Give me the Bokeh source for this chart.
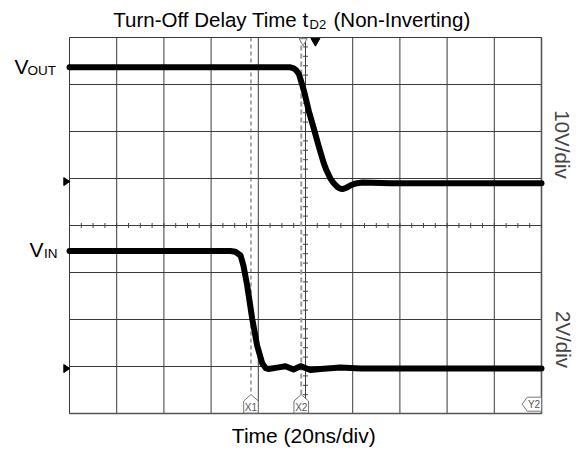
import numpy as np
from bokeh.plotting import figure
from bokeh.models import Range1d, Label
from bokeh.embed import file_html
from bokeh.resources import INLINE

# ---------------- data ----------------
T_GRID_NS = [0, 20, 40, 60, 80, 100, 120, 140, 160, 180, 200]
Y_GRID_DIV = [-4, -3, -2, -1, 0, 1, 2, 3, 4]

VOUT_T = [0, 93.6, 95.0, 96.2, 97.2, 99.3, 101.4, 103.5, 105.6, 107.8, 108.9, 110.6,
          111.9, 113.4, 114.4, 115.6, 117.0, 119.1, 121.2, 124.2, 128.4, 136.0, 200]
VOUT_V = [24.3, 24.3, 24.1, 23.6, 22.9, 19.4, 15.0, 11.3, 7.5, 3.8, 2.4, 0.6,
          -0.3, -1.1, -1.45, -1.6, -1.4, -0.8, -0.4, -0.2, -0.25, -0.35, -0.35]

VIN_T = [0, 68.2, 70.3, 72.5, 73.7, 75.3, 77.4, 79.5, 81.7, 83.1, 84.3, 88.6, 91.5,
         94.9, 97.9, 102.1, 106.4, 114.8, 123.3, 200]
VIN_V = [5.0, 5.0, 4.97, 4.81, 4.38, 3.53, 2.13, 0.98, 0.21, 0.02, -0.02, 0.05, 0.1,
         -0.04, 0.1, -0.06, -0.02, 0.04, 0.0, 0.0]

X_CURSORS_NS = [76.9, 98.2]
X_CURSOR_LABELS = ["X1", "X2"]
TRIGGER_NS = 104.2
Y2_LABEL = "Y2"

TITLE_MAIN = "Turn-Off Delay Time t"
TITLE_SUB = "D2"
TITLE_END = "(Non-Inverting)"
XLABEL = "Time (20ns/div)"
VOUT_SCALE_LABEL = "10V/div"
VIN_SCALE_LABEL = "2V/div"

# ---------------- layout ----------------
W, H = 582, 451
GL, GT, GR, GB = 69, 37, 541, 413      # graticule box in page pixels
PX_NS = (GR - GL) / 200.0
PX_DIV = (GB - GT) / 8.0
VOUT_GND_DIV = 0.935
VIN_GND_DIV = -3.043
VOUT_PER_DIV = 10.0
VIN_PER_DIV = 2.0
FONT = "Liberation Sans"
MID = 0.35   # middle of text box above baseline, in em


def tx(px):  # page x -> ns
    return (px - GL) / PX_NS


def ty(py):  # page y -> divisions
    return 4.0 - (py - GT) / PX_DIV


def text(x, baseline, s, size, align="left", color="black"):
    p.add_layout(Label(x=tx(x), y=ty(baseline - MID * size), text=s, text_font=FONT,
                       text_font_size=f"{size}px", text_align=align,
                       text_baseline="middle", text_color=color))


x0, x1 = tx(0), tx(W)
y0, y1 = ty(H), ty(0)

p = figure(width=W, height=H, x_range=Range1d(x0, x1), y_range=Range1d(y0, y1),
           x_axis_type=None, y_axis_type=None, output_backend="svg",
           toolbar_location=None, title=None, min_border=0)
p.min_border_left = p.min_border_right = p.min_border_top = p.min_border_bottom = 0
p.outline_line_color = None
p.background_fill_color = "white"
p.border_fill_color = "white"

p.extra_y_ranges = {
    "vout": Range1d((y0 - VOUT_GND_DIV) * VOUT_PER_DIV, (y1 - VOUT_GND_DIV) * VOUT_PER_DIV),
    "vin": Range1d((y0 - VIN_GND_DIV) * VIN_PER_DIV, (y1 - VIN_GND_DIV) * VIN_PER_DIV),
}

GRID_COLOR = "#3a3a3a"
# graticule
p.segment(x0=T_GRID_NS, y0=[-4] * len(T_GRID_NS), x1=T_GRID_NS, y1=[4] * len(T_GRID_NS),
          line_color=GRID_COLOR, line_width=1)
p.segment(x0=[0] * len(Y_GRID_DIV), y0=Y_GRID_DIV, x1=[200] * len(Y_GRID_DIV), y1=Y_GRID_DIV,
          line_color=GRID_COLOR, line_width=1)
p.line([0, 200, 200], [-4, -4, 4], line_color="#555555", line_width=1.6)

# minor ticks on the center graticule lines
h_ticks = list(np.arange(0, 200.01, 5.0))
v_ticks = list(np.arange(-4, 4.001, 0.2))
p.scatter(x=h_ticks, y=[0] * len(h_ticks), marker="dash", size=5, angle=np.pi / 2,
          line_color="#444444", line_width=1)
p.scatter(x=[100] * len(v_ticks), y=v_ticks, marker="dash", size=5,
          line_color="#444444", line_width=1)

# cursor lines
tip_y = ty(394)
p.line([X_CURSORS_NS[0]] * 2, [4, tip_y], line_color="#555555", line_width=1,
       line_dash="4 3")
p.line([X_CURSORS_NS[1]] * 2, [4, tip_y], line_color="#9a9a9a", line_width=2,
       line_dash="5 3")

# traces
p.line(VOUT_T, VOUT_V, y_range_name="vout", line_color="black", line_width=6,
       line_join="round", line_cap="round")
p.line(VIN_T, VIN_V, y_range_name="vin", line_color="black", line_width=6,
       line_join="round", line_cap="round")

# cursor markers at bottom
half = 7.3 / PX_NS
for xc, lab in zip(X_CURSORS_NS, X_CURSOR_LABELS):
    xs = [xc, xc + half, xc + half, xc - half, xc - half]
    ys = [ty(394), ty(400.5), ty(412.5), ty(412.5), ty(400.5)]
    p.patch(xs, ys, fill_color="white", line_color="#777777", line_width=1)
    p.add_layout(Label(x=xc, y=ty(406.5), text=lab, text_font=FONT,
                       text_font_size="10px", text_color="#555555",
                       text_align="center", text_baseline="middle"))

# Y2 marker at right
xs = [tx(521.7), tx(526.7), tx(541), tx(541), tx(526.7)]
ys = [ty(403.7), ty(396.7), ty(396.7), ty(410.7), ty(410.7)]
p.patch(xs, ys, fill_color="white", line_color="#777777", line_width=1)
p.add_layout(Label(x=tx(533.5), y=ty(404), text=Y2_LABEL, text_font=FONT,
                   text_font_size="10px", text_color="#555555",
                   text_align="center", text_baseline="middle"))

# top markers
p.scatter(x=[X_CURSORS_NS[1] + 0.8], y=[ty(40.5)], marker="inverted_triangle", size=8,
          fill_color="white", line_color="#777777")
p.scatter(x=[TRIGGER_NS], y=[ty(40.5)], marker="inverted_triangle", size=9,
          fill_color="black", line_color="black")

# ground markers (left of graticule)
for gnd in (VOUT_GND_DIV, VIN_GND_DIV):
    gpy = GT + (4 - gnd) * PX_DIV
    p.patch([tx(63.3), tx(69.3), tx(63.3)], [ty(gpy - 4), ty(gpy), ty(gpy + 4)],
            fill_color="black", line_color="black", line_width=1)

# title (with subscript)
TS = 20.5
SS = 13
text(308, 26, TITLE_MAIN, TS, align="right")
text(309, 29, TITLE_SUB, SS)
text(333, 26, TITLE_END, TS)

# x label
text(303.3, 442.5, XLABEL, 21, align="center")

# channel names
VS = 21
text(14, 73.3, "V", VS)
text(27, 74.3, "OUT", 13.5)
text(29, 256.7, "V", VS)
text(43.5, 257.7, "IN", 13.5)

# scale labels (rotated)
p.add_layout(Label(x=tx(562), y=ty(144), text=VOUT_SCALE_LABEL, text_font=FONT,
                   text_font_size="20.5px", text_align="center",
                   text_baseline="middle", angle=-np.pi / 2))
p.add_layout(Label(x=tx(563), y=ty(339), text=VIN_SCALE_LABEL, text_font=FONT,
                   text_font_size="20.5px", text_align="center",
                   text_baseline="middle", angle=-np.pi / 2))

open("out.html", "w").write(file_html(p, INLINE))
